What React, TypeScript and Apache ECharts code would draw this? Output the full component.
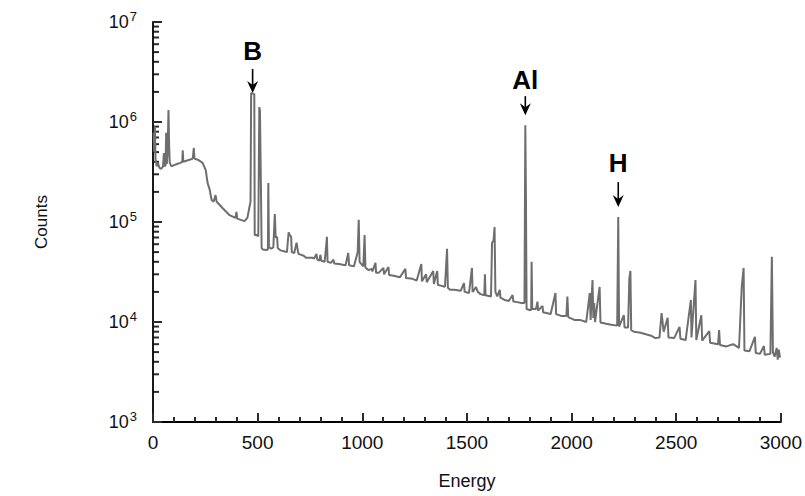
import React, { useEffect, useRef } from "react";
import * as echarts from "echarts";

// Gamma-ray spectrum: [energy, counts]
const spectrumLow: [number, number][] = [
  [3, 7.8e5], [6, 5.0e5], [9, 9.0e5], [12, 4.2e5], [18, 3.6e5], [24, 3.9e5], [30, 3.5e5],
  [38, 3.4e5], [44, 3.5e5], [48, 3.6e5], [52, 4.9e5], [55, 3.6e5], [60, 3.7e5], [63, 7.8e5],
  [66, 3.8e5], [70, 5.0e5], [74, 1.32e6], [77, 6.0e5], [80, 3.9e5], [88, 3.6e5], [100, 3.7e5],
  [115, 3.8e5], [130, 3.9e5], [140, 4.0e5], [142, 5.2e5], [145, 4.0e5], [160, 4.1e5],
  [175, 4.2e5], [190, 4.3e5], [195, 5.5e5], [198, 4.3e5], [214, 4.2e5], [237, 3.9e5],
  [252, 3.3e5], [261, 2.45e5], [271, 2.1e5], [280, 1.66e5], [290, 1.6e5], [299, 1.86e5],
  [304, 1.6e5], [310, 1.55e5], [332, 1.38e5], [366, 1.17e5], [394, 1.1e5], [399, 1.26e5],
  [402, 1.08e5], [437, 1.02e5], [451, 1.1e5], [460, 1.38e5], [466, 1.6e5], [469, 1.95e6],
  [484, 1.9e6], [486, 7.4e4], [495, 7.4e4], [503, 7.2e4], [508, 1.41e6], [511, 1.3e6],
  [516, 2.0e5], [519, 5.5e4], [525, 5.3e4], [540, 5.25e4], [549, 5.3e4], [551, 2.45e5],
  [554, 5.6e4], [565, 5.4e4], [575, 5.6e4], [582, 1.2e5], [586, 7.0e4], [593, 7.1e4],
  [596, 5.5e4], [610, 5.2e4], [625, 5.1e4], [640, 5.0e4], [648, 7.9e4], [652, 7.5e4],
  [660, 7.1e4], [663, 5.0e4], [675, 4.9e4], [686, 6.2e4], [690, 5.5e4], [695, 4.8e4],
  [720, 4.6e4], [731, 4.4e4], [760, 4.4e4], [770, 4.3e4], [781, 4.8e4], [785, 4.2e4],
  [795, 4.1e4], [800, 4.7e4], [804, 4.1e4], [820, 4.0e4], [828, 5.9e4], [831, 7.1e4],
  [834, 4.0e4], [850, 3.9e4], [862, 4.2e4], [866, 3.85e4], [888, 3.8e4], [920, 3.7e4],
  [933, 4.9e4], [937, 3.7e4], [960, 3.6e4], [978, 5.0e4], [983, 1.05e5], [987, 4.0e4],
];

const spectrumMid: [number, number][] = [
  [1005, 3.6e4], [1011, 7.4e4], [1015, 3.5e4], [1030, 3.3e4], [1045, 3.4e4], [1048, 3.2e4],
  [1063, 3.9e4], [1066, 3.1e4], [1078, 3.1e4], [1101, 3.47e4], [1104, 3.0e4], [1125, 3.55e4],
  [1128, 2.95e4], [1150, 2.9e4], [1180, 2.8e4], [1206, 3.4e4], [1209, 2.75e4], [1240, 2.7e4],
  [1260, 2.6e4], [1282, 3.8e4], [1285, 2.55e4], [1305, 3.0e4], [1308, 2.5e4], [1339, 3.24e4],
  [1342, 2.4e4], [1358, 3.24e4], [1361, 2.35e4], [1395, 2.25e4], [1405, 5.4e4], [1409, 2.2e4],
  [1419, 2.1e4], [1440, 2.1e4], [1470, 2.05e4], [1486, 2.45e4], [1489, 2.0e4], [1510, 1.95e4],
  [1524, 3.47e4], [1527, 2.0e4], [1535, 2.1e4], [1543, 2.24e4], [1552, 2.0e4], [1565, 1.9e4],
  [1583, 1.85e4], [1586, 3.0e4], [1589, 1.85e4], [1615, 1.8e4], [1620, 6.2e4], [1627, 6.5e4],
  [1632, 8.9e4], [1636, 2.0e4], [1645, 1.8e4], [1657, 2.1e4], [1660, 1.75e4], [1680, 1.66e4],
  [1700, 1.62e4], [1718, 1.86e4], [1722, 1.6e4], [1740, 1.58e4], [1760, 1.55e4], [1775, 1.55e4],
  [1779, 9.3e5], [1782, 1.66e5], [1785, 1.35e4], [1800, 1.32e4], [1807, 1.32e4], [1809, 4.0e4],
  [1812, 1.35e4], [1830, 1.35e4], [1837, 1.6e4], [1840, 1.3e4], [1861, 1.45e4], [1864, 1.25e4],
  [1900, 1.2e4], [1923, 1.95e4], [1926, 1.2e4], [1950, 1.15e4], [1975, 1.15e4], [1980, 1.8e4],
  [1984, 1.12e4],
];

const spectrumHigh: [number, number][] = [
  [2013, 1.05e4], [2040, 1.05e4], [2070, 1.0e4], [2087, 1.95e4], [2091, 1.05e4], [2100, 2.63e4],
  [2104, 1.1e4], [2108, 1.55e4], [2112, 1.0e4], [2134, 2.24e4], [2138, 9.9e3], [2165, 9.6e3],
  [2190, 9.4e3], [2218, 9.2e3], [2223, 1.12e5], [2227, 9.0e3], [2250, 1.17e4], [2253, 8.8e3],
  [2270, 8.8e3], [2276, 2.7e4], [2281, 3.24e4], [2285, 8.3e3], [2298, 8.0e3], [2330, 7.8e3],
  [2359, 7.5e3], [2380, 7.3e3], [2400, 6.9e3], [2420, 7.0e3], [2430, 1.23e4], [2440, 8.0e3],
  [2459, 1.1e4], [2463, 7.0e3], [2490, 6.9e3], [2516, 8.9e3], [2520, 6.8e3], [2545, 6.6e3],
  [2570, 1.66e4], [2573, 7.0e3], [2592, 2.63e4], [2596, 6.6e3], [2620, 1.17e4], [2624, 6.5e3],
  [2658, 8.1e3], [2662, 6.2e3], [2700, 6.0e3], [2705, 8.3e3], [2709, 5.9e3], [2740, 5.7e3],
  [2772, 6.0e3], [2800, 5.5e3], [2813, 2.24e4], [2822, 3.47e4], [2826, 5.2e3], [2850, 5.1e3],
  [2876, 7.1e3], [2880, 4.9e3], [2900, 4.8e3], [2919, 5.75e3], [2923, 4.7e3], [2950, 4.8e3],
  [2957, 4.5e4], [2962, 5.0e3], [2970, 4.5e3], [2980, 5.5e3], [2985, 4.2e3], [2990, 5.3e3],
  [2996, 4.4e3],
];

// Peak annotations: label, energy, count at the peak top
const peakLabels = ["B", "Al", "H"];
const peakEnergies = [476, 1779, 2223];
const peakCounts = [1.95e6, 9.3e5, 1.12e5];

// Axis ticks
const xMin = 0;
const xMax = 3000;
const xInterval = 500;
const yMin = 1e3;
const yMax = 1e7;
const yDecades = [1e3, 1e4, 1e5, 1e6];
const yMinorMultipliers = [2, 3, 4, 5, 6, 7, 8, 9];

// annotation layout (pixels): gap between arrow tip and peak, shaft length, text offset above tip
const annLayout = [
  { gap: 0, shaft: 24, text: 42 },
  { gap: 10, shaft: 19, text: 35 },
  { gap: 10, shaft: 25, text: 44 },
];

export default function App() {
  const ref = useRef<HTMLDivElement>(null);

  useEffect(() => {
    document.body.style.margin = "0";
    const chart = echarts.init(ref.current!, undefined, { renderer: "svg" });
    const spectrum = [...spectrumLow, ...spectrumMid, ...spectrumHigh];
    const font = "'Liberation Sans', Arial, Helvetica, sans-serif";
    const ink = "#000000";
    const tickInk = "#2b2b2b";

    chart.setOption({
      animation: false,
      grid: { left: 153, right: 20, top: 22, bottom: 74 },
      xAxis: {
        type: "value",
        min: xMin,
        max: xMax,
        interval: xInterval,
        name: "Energy",
        nameLocation: "middle",
        nameGap: 50,
        nameTextStyle: { fontFamily: font, fontSize: 18, color: "#111" },
        axisLine: { show: true, lineStyle: { color: ink, width: 1.8 } },
        axisTick: { show: true, inside: true, length: 9, lineStyle: { color: tickInk, width: 2 } },
        minorTick: { show: true, splitNumber: 5, length: 5, lineStyle: { color: tickInk, width: 2 } },
        axisLabel: {
          fontFamily: font,
          fontSize: 19,
          color: "#111",
          margin: 11,
          formatter: (v: number) => String(v),
        },
        splitLine: { show: true, lineStyle: { color: "rgba(0,0,0,0)" } },
      },
      yAxis: {
        type: "log",
        logBase: 10,
        min: yMin,
        max: yMax,
        name: "Counts",
        nameLocation: "middle",
        nameGap: 103,
        nameTextStyle: { fontFamily: font, fontSize: 17, color: "#111" },
        axisLine: { show: true, lineStyle: { color: ink, width: 1.8 } },
        axisTick: { show: true, inside: true, length: 9, lineStyle: { color: tickInk, width: 2 } },
        axisLabel: {
          margin: 16,
          formatter: (v: number) => `{b|10}{s|${Math.round(Math.log10(v))}}`,
          rich: {
            b: { fontFamily: font, fontSize: 18, color: "#111" },
            s: { fontFamily: font, fontSize: 13, color: "#111", padding: [0, 0, 11, 1] },
          },
        },
        splitLine: { show: true, lineStyle: { color: "rgba(0,0,0,0)" } },
      },
      series: [
        {
          type: "line",
          data: spectrum,
          showSymbol: false,
          symbol: "none",
          lineStyle: { color: "#6e6e6e", width: 2 },
        },
      ],
    });

    const toPx = (x: number, y: number) =>
      chart.convertToPixel({ xAxisIndex: 0, yAxisIndex: 0 }, [x, y]) as number[];
    const axisX = toPx(xMin, yMin)[0];
    const graphics: any[] = [];

    peakLabels.forEach((label, i) => {
      const [px, py] = toPx(peakEnergies[i], peakCounts[i]);
      const L = annLayout[i];
      const tip = py - L.gap;
      graphics.push({
        type: "line",
        shape: { x1: px, y1: tip - L.shaft, x2: px, y2: tip - 6 },
        style: { stroke: "#000", lineWidth: 1.6 },
      });
      graphics.push({
        type: "polygon",
        shape: { points: [[px, tip], [px - 5.5, tip - 12], [px, tip - 8], [px + 5.5, tip - 12]] },
        style: { fill: "#000" },
      });
      graphics.push({
        type: "text",
        x: px,
        y: tip - L.text,
        style: {
          text: label,
          fontFamily: font,
          fontSize: 26,
          fontWeight: "bold",
          fill: "#000",
          align: "center",
          verticalAlign: "middle",
        },
      });
    });

    // log minor ticks on the y axis (inside, pointing right)
    yDecades.forEach((d) => {
      yMinorMultipliers.forEach((m) => {
        const pm = toPx(xMin, d * m)[1];
        graphics.push({
          type: "line",
          shape: { x1: axisX + 0.5, y1: pm, x2: axisX + 6, y2: pm },
          style: { stroke: tickInk, lineWidth: 2 },
        });
      });
    });
    chart.setOption({ graphic: graphics });

    return () => chart.dispose();
  }, []);

  return <div ref={ref} style={{ width: 805, height: 496 }} />;
}
